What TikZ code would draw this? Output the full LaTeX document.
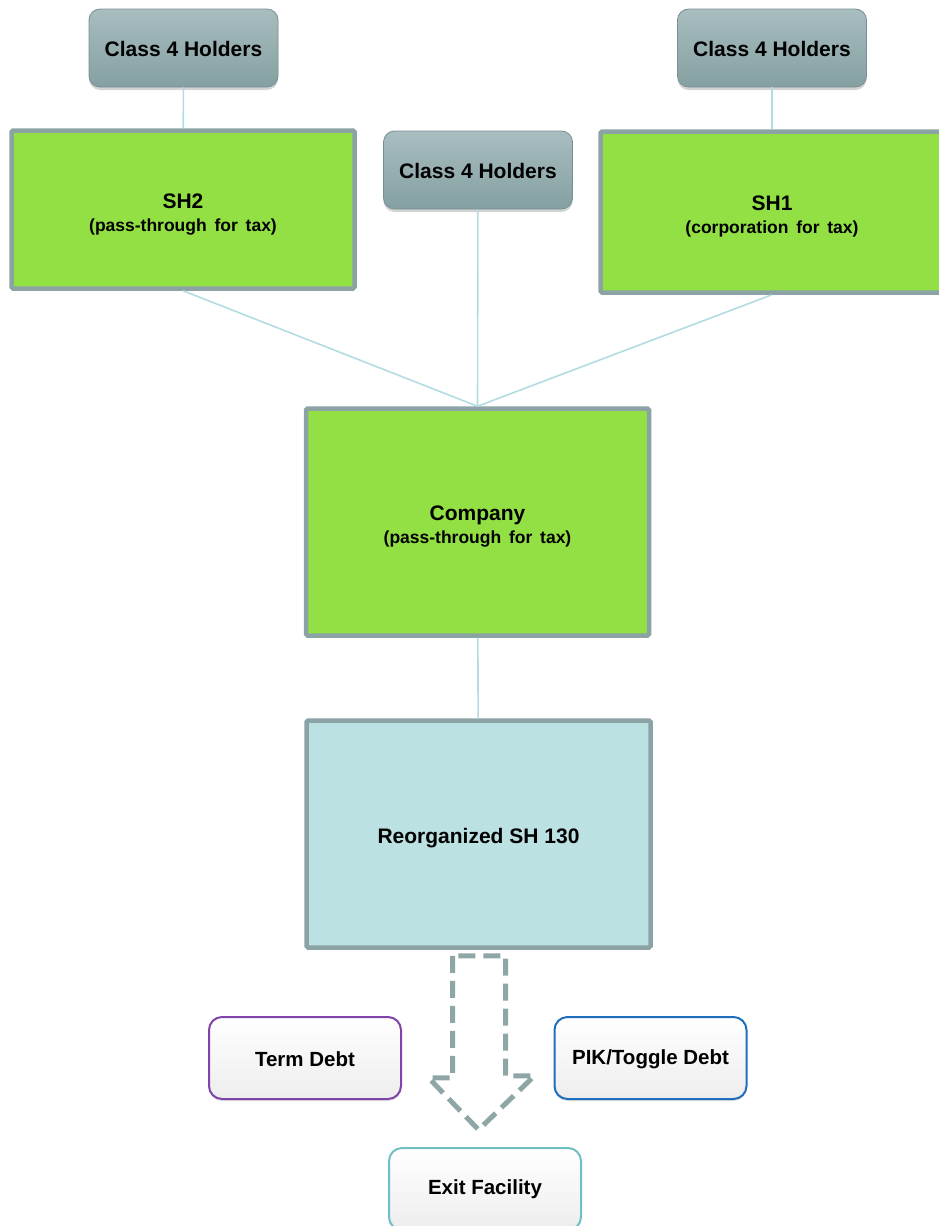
\documentclass[tikz,border=0pt]{standalone}
\usepackage{fontspec}
\setmainfont{Liberation Sans}
\usetikzlibrary{shadows,calc}
\definecolor{holdtop}{HTML}{A8BDBF}
\definecolor{holdbot}{HTML}{85A0A2}
\definecolor{frame}{HTML}{8CA3A6}
\definecolor{greenfill}{HTML}{92E044}
\definecolor{bluefill}{HTML}{BCE1E3}
\definecolor{conncol}{HTML}{B3DCE0}
\definecolor{arrowcol}{HTML}{8FA6A6}
\definecolor{purp}{HTML}{7E44A8}
\definecolor{bluedge}{HTML}{1F6FBF}
\definecolor{tealedge}{HTML}{6FBFC4}
\newcommand{\lowered}[2]{\raisebox{-#1}[\height][\depth]{#2}}
\newcommand{\twoline}[2]{\lowered{5pt}{\begin{tabular}{@{}c@{}}#1\\[-2pt]{\fontsize{17.5}{21}\selectfont #2}\end{tabular}}}
\tikzset{
  holder/.style={rounded corners=11pt, minimum width=189pt, minimum height=78pt,
    top color=holdtop, bottom color=holdbot, draw=holdbot!90!black, line width=0.8pt,
    drop shadow={opacity=0.35, shadow xshift=0pt, shadow yshift=-3pt},
    font=\fontsize{21}{25}\selectfont\bfseries, inner sep=0pt},
  entity/.style={draw=frame, line width=4.5pt, fill=greenfill, rounded corners=1.5pt,
    minimum width=343pt, inner sep=0pt,
    font=\fontsize{21}{25}\selectfont\bfseries},
  debt/.style={rounded corners=13pt, top color=white, middle color=white, bottom color=gray!14, line width=2pt,
    minimum width=192pt, minimum height=82pt, inner sep=0pt,
    drop shadow={opacity=0.25, shadow xshift=0pt, shadow yshift=-2pt},
    font=\fontsize{20.5}{25}\selectfont\bfseries},
  conn/.style={draw=conncol, line width=1.6pt}
}
\begin{document}
\begin{tikzpicture}[x=1pt,y=-1pt]
\useasboundingbox (0,0) rectangle (938,1226);
\node[holder] (c4l) at (183.5,48) {\lowered{1pt}{Class 4 Holders}};
\node[holder] (c4r) at (772,48) {\lowered{1pt}{Class 4 Holders}};
\node[holder] (c4m) at (478,170) {\lowered{1pt}{Class 4 Holders}};
\node[entity, minimum height=158pt] (sh2) at (183,209.5) {\twoline{SH2}{(pass-through\ \,for\ \,tax)}};
\node[entity, minimum height=161pt] (sh1) at (772,212) {\twoline{SH1}{(corporation\ \,for\ \,tax)}};
\node[entity, minimum height=227pt] (comp) at (477.5,522) {\twoline{Company}{(pass-through\ \,for\ \,tax)}};
\node[entity, fill=bluefill, minimum width=344pt, minimum height=227pt] (reorg) at (478.5,834) {\lowered{4pt}{Reorganized SH 130}};
\draw[conn] (c4l) -- (sh2);
\draw[conn] (c4r) -- (sh1);
\draw[conn] (c4m) -- (comp.north);
\draw[conn] (sh2.south) -- (comp.north);
\draw[conn] (sh1.south) -- (comp.north);
\draw[conn] (comp) -- (reorg);
\node[debt, draw=purp] (term) at (305,1058) {\lowered{1pt}{Term Debt}};
\node[debt, draw=bluedge] (pik) at (650.5,1058) {\lowered{1pt}{PIK/Toggle Debt}};
\node[debt, draw=tealedge] (exit) at (485,1189) {Exit Facility};
\draw[arrowcol, line width=5pt, dash pattern=on 17pt off 8pt, line join=miter]
  ($(reorg.south)+(-26,6)$) -- ++(0,122) -- ++(-24,0) -- ($(reorg.south)+(0,180)$)
  -- ($(reorg.south)+(56,126)$) -- ++(-29,0) -- ($(reorg.south)+(27,6)$) -- cycle;
\end{tikzpicture}
\end{document}
